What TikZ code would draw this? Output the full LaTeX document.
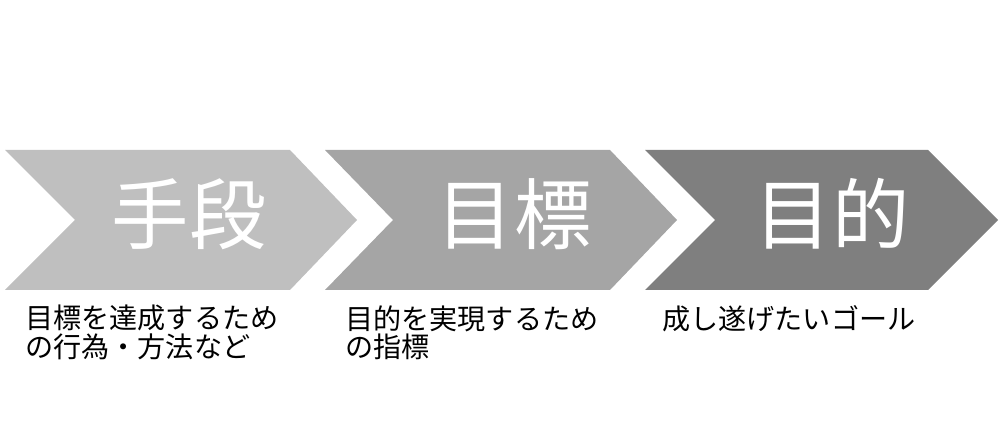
\documentclass[tikz,border=0pt]{standalone}
\usepackage{fontspec}
\newfontfamily\jp{Noto Sans CJK JP}

\tikzset{
  stage/.style={text=white, inner sep=0pt, font=\jp\fontsize{44}{44}\selectfont},
  note/.style={anchor=north west, align=left, inner sep=0pt, font=\jp\fontsize{16}{16.2}\selectfont},
}
\definecolor{grayA}{HTML}{BFBFBF}
\definecolor{grayB}{HTML}{A5A5A5}
\definecolor{grayC}{HTML}{7F7F7F}

\begin{document}
\begin{tikzpicture}[x=0.02cm,y=0.02cm]
\useasboundingbox (0,0) rectangle (1000,439);

\fill[grayA] (5,289) -- (290,289) -- (357,219) -- (290,149) -- (5,149) -- (75,219) -- cycle; % means
\fill[grayB] (325,289) -- (610,289) -- (677,219) -- (610,149) -- (325,149) -- (393,219) -- cycle; % target
\fill[grayC] (645,289) -- (928,289) -- (998,219) -- (928,149) -- (645,149) -- (715,219) -- cycle; % purpose

\node[stage] (means) at (189,225) {手段};
\node[stage] (target) at (514,225) {目標};
\node[stage] (purpose) at (832,225) {目的};

\node[note] (meansnote) at (25,134) {目標を達成するため\\の行為・方法など};
\node[note] (targetnote) at (345,134) {目的を実現するため\\の指標};
\node[note] (purposenote) at (662,134) {成し遂げたいゴール};

\end{tikzpicture}
\end{document}
